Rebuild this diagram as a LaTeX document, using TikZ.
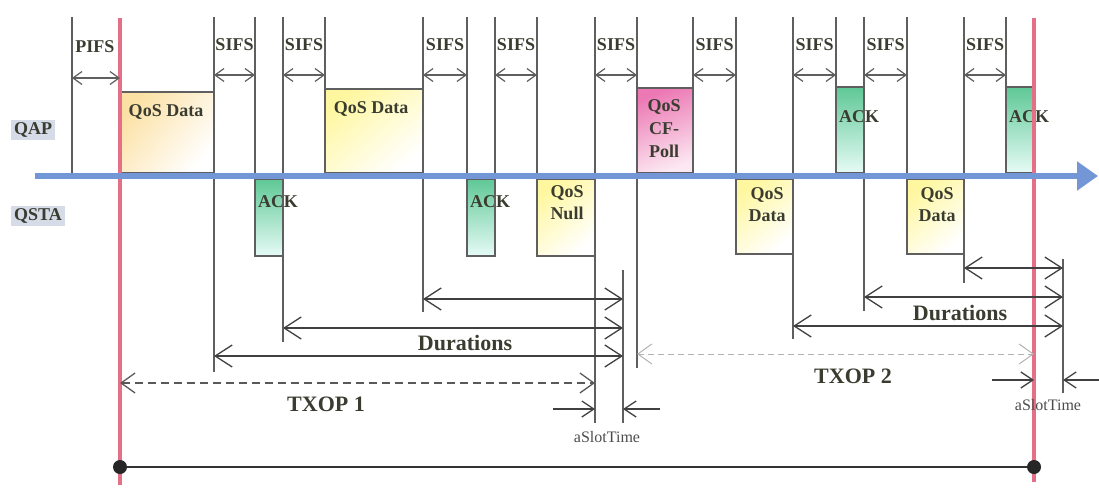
\documentclass[tikz,border=0pt]{standalone}
\usepackage{fontspec}
\setmainfont{Liberation Serif}
\usetikzlibrary{arrows.meta,calc,positioning}
\definecolor{lineblue}{RGB}{115,150,215}
\definecolor{txopred}{RGB}{228,112,135}
\definecolor{vgray}{RGB}{95,95,95}
\definecolor{lblbg}{RGB}{214,219,232}
\definecolor{txtdark}{RGB}{58,60,48}
\definecolor{dataylw}{RGB}{255,247,160}
\definecolor{dataorg}{RGB}{252,225,165}
\definecolor{ackgrn}{RGB}{95,200,150}
\definecolor{ackcyan}{RGB}{230,251,246}
\definecolor{pollpink}{RGB}{236,120,180}
\definecolor{pollpale}{RGB}{252,232,242}

\begin{document}
\begin{tikzpicture}[x=1pt, y=-1pt,
    every node/.style={font=\fontsize{18}{22}\selectfont\bfseries, text=txtdark, inner sep=0pt},
    frame/.style={draw=vgray, line width=1.2pt, anchor=north west, inner sep=0pt, outer sep=0pt},
    datafr/.style={frame, top color=dataylw, bottom color=white, shading angle=40},
    firstfr/.style={frame, top color=dataorg, bottom color=white, shading angle=50},
    ackfr/.style={frame, top color=ackgrn, bottom color=ackcyan},
    pollfr/.style={frame, top color=pollpink, bottom color=pollpale, shading angle=20},
    vline/.style={draw=vgray, line width=1.4pt},
    redline/.style={draw=txopred, line width=4pt},
    timeline/.style={-{Triangle[length=21pt,width=28pt]}, line width=5.5pt, draw=lineblue},
    gap/.style={{Straight Barb[length=9pt,width=13pt]}-{Straight Barb[length=9pt,width=13pt]},
                line width=1.2pt, draw=vgray},
    dur/.style={{Straight Barb[length=17pt,width=22pt]}-{Straight Barb[length=17pt,width=22pt]},
                line width=1.3pt, draw=black!75},
    slot/.style={-{Straight Barb[length=12pt,width=16pt]}, line width=1.3pt, draw=black!75},
    txop/.style={{Straight Barb[length=14pt,width=20pt]}-{Straight Barb[length=14pt,width=20pt]},
                 dash pattern=on 8pt off 5pt, line width=1.3pt, draw=black!65},
    txoplt/.style={txop, draw=black!30, dash pattern=on 6pt off 4pt, line width=1pt},
    big/.style={font=\fontsize{22}{24}\selectfont\bfseries},
    small/.style={font=\fontsize{16}{18}\selectfont, text=black!70},
    station/.style={fill=lblbg, inner sep=3pt},
    dot/.style={circle, fill=black!85, minimum size=14pt}
]
\useasboundingbox (0,0) rectangle (1099,490);

% Levels of the arrows
\coordinate (yP) at (0,78);
\coordinate (yS) at (0,75);
\coordinate (d1) at (0,299);
\coordinate (d2) at (0,328);
\coordinate (d3) at (0,356);
\coordinate (t1) at (0,383);
\coordinate (e1) at (0,268);
\coordinate (e2) at (0,297);
\coordinate (e3) at (0,326);
\coordinate (t2) at (0,354);

% Frames on air
\node[firstfr, minimum width=94pt, minimum height=81pt] (qd1) at (120,92) {};
\node[datafr, minimum width=98pt, minimum height=84pt] (qd2) at (325,89) {};
\node[pollfr, minimum width=56pt, minimum height=85pt] (cfp) at (637,88) {};
\node[ackfr, minimum width=28pt, minimum height=86pt] (ack3) at (836,87) {};
\node[ackfr, minimum width=28pt, minimum height=86pt] (ack4) at (1006,87) {};
\node[ackfr, minimum width=28pt, minimum height=77pt] (ack1) at (255,179) {};
\node[ackfr, minimum width=28pt, minimum height=77pt] (ack2) at (467,179) {};
\node[datafr, minimum width=58pt, minimum height=77pt] (qn) at (537,179) {};
\node[datafr, minimum width=57pt, minimum height=75pt] (qd3) at (736,179) {};
\node[datafr, minimum width=57pt, minimum height=75pt] (qd4) at (907,179) {};

% Frame texts
\node (tqd1) at (166,112) {QoS Data};
\node (tqd2) at (371,109) {QoS Data};
\node[align=center, font=\fontsize{18}{23}\selectfont\bfseries] (tcfp) at (664,129) {QoS\\CF-\\Poll};
\node (tack3) at (859,117) {ACK};
\node (tack4) at (1029,117) {ACK};
\node (tack1) at (278,202) {ACK};
\node (tack2) at (490,202) {ACK};
\node[align=center] (tqn) at (567,203) {QoS\\Null};
\node[align=center] (tqd3) at (767,205) {QoS\\Data};
\node[align=center] (tqd4) at (937,205) {QoS\\Data};

% Boundaries of the frames and gaps
\foreach \x/\yb in {72/173, 214/372, 255/256, 283/342, 325/173, 423/312, 467/256,
                    495/256, 537/256, 595/423, 637/368, 693/173, 736/254, 793/339,
                    836/173, 864/311, 907/254, 964/283, 1006/173}{
  \coordinate (v\x) at (\x,17);
  \coordinate (w\x) at (\x,\yb);
  \draw[vline] (v\x) -- (w\x);
}
\coordinate (sl1t) at (623,270);
\coordinate (sl1b) at (623,423);
\coordinate (sl2t) at (1063,259);
\coordinate (sl2b) at (1063,393);
\draw[vline] (sl1t) -- (sl1b);
\draw[vline] (sl2t) -- (sl2b);

% TXOP limits
\coordinate (r1t) at (120,18);
\coordinate (r1b) at (120,485);
\coordinate (r2t) at (1034,18);
\coordinate (r2b) at (1034,482);
\draw[redline] (r1t) -- (r1b);
\draw[redline] (r2t) -- (r2b);

% Time axis
\coordinate (tl0) at (35,176);
\coordinate (tl1) at (1098,176);
\draw[timeline] (tl0) -- (tl1);

\node[station] (qap) at (33,130) {QAP};
\node[station] (qsta) at (38,216) {QSTA};

% PIFS and SIFS
\draw[gap] (v72 |- yP) -- (r1t |- yP);
\node (pifs) at (95,47) {PIFS};
\foreach \a/\b in {214/255, 283/325, 423/467, 495/537, 595/637, 693/736,
                   793/836, 864/907, 964/1006}{
  \draw[gap] (v\a |- yS) -- (v\b |- yS);
  \node (sifs\a) at ({(\a+\b)/2},45) {SIFS};
}

% Durations of TXOP 1
\draw[dur] (v423 |- d1) -- (sl1t |- d1);
\draw[dur] (v283 |- d2) -- (sl1t |- d2);
\draw[dur] (v214 |- d3) -- (sl1t |- d3);
\node[big] (dur1) at (465,343) {Durations};
\draw[txop] (r1t |- t1) -- (v595 |- t1);
\node[big] (txop1) at (326,404) {TXOP 1};
\coordinate (sa1) at (553,409);
\coordinate (sb1) at (660,409);
\draw[slot] (sa1) -- (v595 |- sa1);
\draw[slot] (sb1) -- (sl1t |- sb1);
\node[small] (slot1) at (607,437) {aSlotTime};

% Durations of TXOP 2
\draw[dur] (v964 |- e1) -- (sl2t |- e1);
\draw[dur] (v864 |- e2) -- (sl2t |- e2);
\draw[dur] (v793 |- e3) -- (sl2t |- e3);
\node[big] (dur2) at (960,313) {Durations};
\draw[txoplt] (v637 |- t2) -- (r2t |- t2);
\node[big] (txop2) at (853,376) {TXOP 2};
\coordinate (sa2) at (992,380);
\coordinate (sb2) at (1099,380);
\draw[slot] (sa2) -- (r2t |- sa2);
\draw[slot] (sb2) -- (sl2t |- sb2);
\node[small] (slot2) at (1048,405) {aSlotTime};

% Whole TXOP span
\node[dot] (db0) at (120,467) {};
\node[dot] (db1) at (1034,467) {};
\draw[line width=2.5pt, black!80] (db0) -- (db1);

\end{tikzpicture}
\end{document}
